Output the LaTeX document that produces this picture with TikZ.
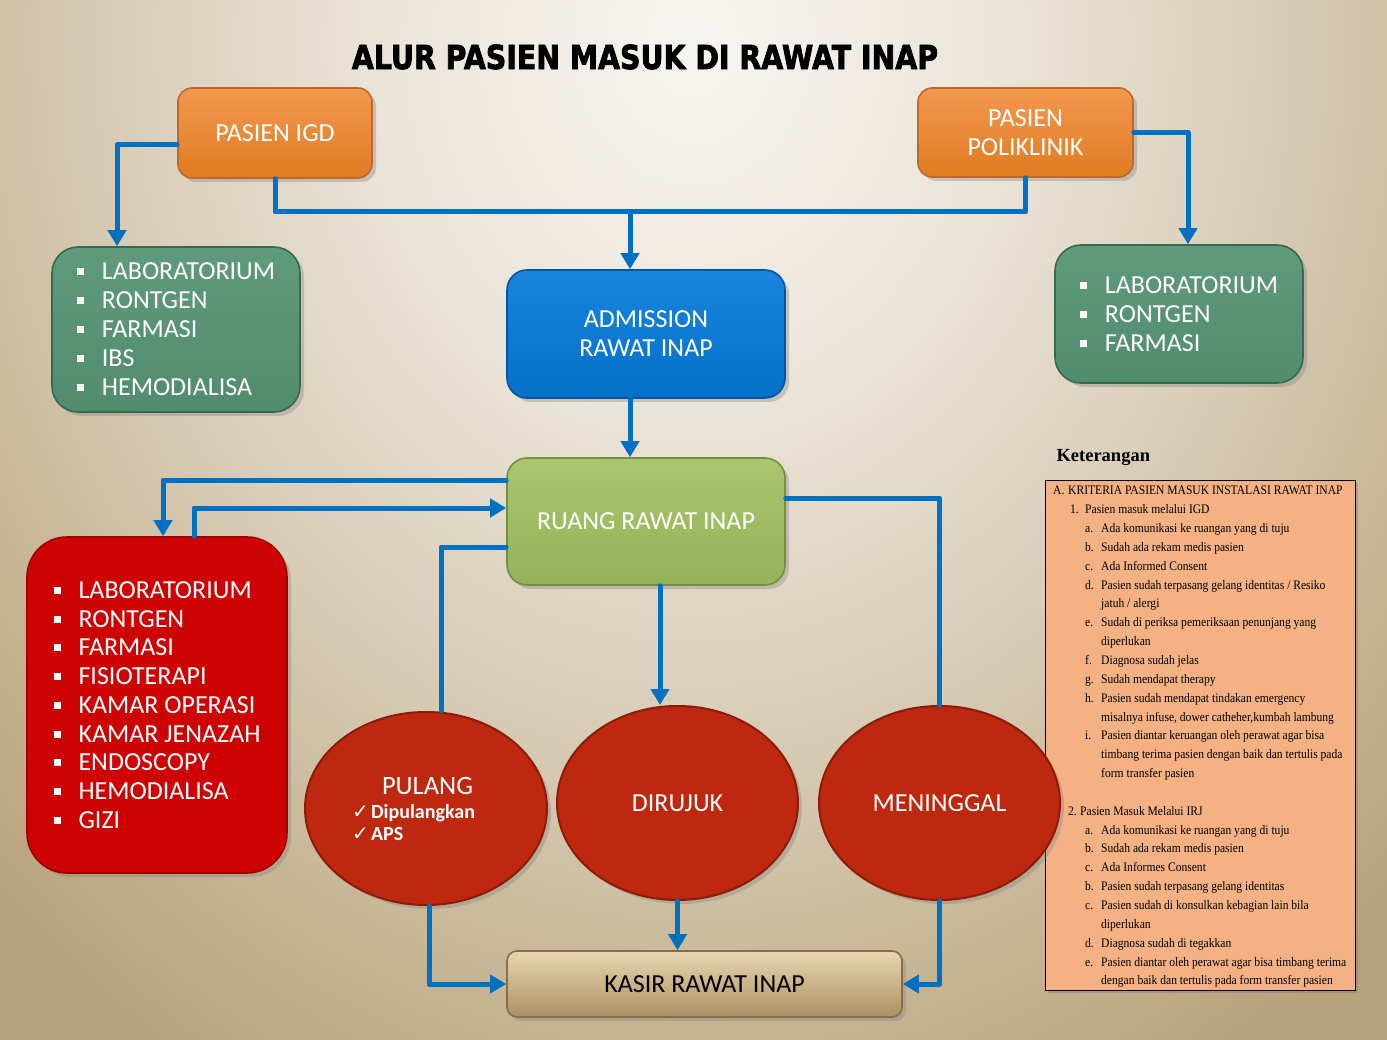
\documentclass[tikz,border=0pt]{standalone}
\usepackage{fontspec}
\setmainfont{Carlito}
\newfontfamily\titlefont{DejaVu Sans}[BoldFeatures={FakeBold=2.5}]
\newfontfamily\symfont{DejaVu Sans}
\newfontfamily\ketheadfont{Liberation Serif}
\newfontfamily\ketfont{Liberation Serif}[FakeStretch=0.89]
\usepackage{graphicx}
\usepackage{tikz}
\usetikzlibrary{arrows.meta,calc,positioning,shapes.geometric,shadows}

\definecolor{bgA}{RGB}{247,245,241}
\definecolor{bgB}{RGB}{235,229,218}
\definecolor{bgC}{RGB}{215,203,180}
\definecolor{bgD}{RGB}{195,177,142}
\definecolor{bgE}{RGB}{184,162,124}
\definecolor{flowblue}{RGB}{0,112,192}
\definecolor{orgtop}{RGB}{242,152,78}
\definecolor{orgbot}{RGB}{224,124,34}
\definecolor{orgrim}{RGB}{190,105,40}
\definecolor{grntop}{RGB}{96,154,125}
\definecolor{grnbot}{RGB}{82,140,110}
\definecolor{grnrim}{RGB}{55,105,80}
\definecolor{blutop}{RGB}{25,132,220}
\definecolor{blubot}{RGB}{5,112,200}
\definecolor{blurim}{RGB}{0,85,165}
\definecolor{olvtop}{RGB}{170,198,110}
\definecolor{olvbot}{RGB}{148,178,88}
\definecolor{olvrim}{RGB}{115,145,60}
\definecolor{redfill}{RGB}{206,4,4}
\definecolor{redrim}{RGB}{160,0,0}
\definecolor{ellfill}{RGB}{190,40,14}
\definecolor{ellrim}{RGB}{140,28,8}
\definecolor{kastop}{RGB}{232,214,175}
\definecolor{kasbot}{RGB}{172,144,98}
\definecolor{kasrim}{RGB}{135,110,70}
\definecolor{ketfill}{RGB}{244,177,131}

\pgfdeclareradialshading{bgglow}{\pgfpoint{0bp}{0bp}}{color(0bp)=(bgA); color(6bp)=(bgB); color(12bp)=(bgC); color(17bp)=(bgD); color(20bp)=(bgE); color(50bp)=(bgE)}

\newcommand{\bul}{\makebox[25pt][l]{\rule[4.5pt]{7pt}{7pt}}}
\newcommand{\ck}{\makebox[19pt][l]{\symfont ✓}}
\newcommand{\kA}[2]{\makebox[15pt][l]{#1}#2}
\newcommand{\kB}[2]{\hspace*{17pt}\makebox[15pt][l]{#1}#2}
\newcommand{\kN}[2]{\hspace*{15pt}\makebox[12pt][l]{#1}#2}
\newcommand{\kC}[2]{\hspace*{32pt}\makebox[16pt][l]{#1}#2}
\newcommand{\kD}[1]{\hspace*{48pt}#1}

\tikzset{
    base/.style={inner sep=0pt, text=white, align=center, line width=1.6pt,
                 font=\fontsize{26}{29}\selectfont,
                 drop shadow={opacity=0.35, shadow xshift=4pt, shadow yshift=-4pt}},
    orangebox/.style={base, rectangle, rounded corners=14pt, top color=orgtop, bottom color=orgbot, draw=orgrim},
    greenbox/.style={base, rectangle, rounded corners=26pt, top color=grntop, bottom color=grnbot, draw=grnrim, align=left},
    bluebox/.style={base, rectangle, rounded corners=20pt, top color=blutop, bottom color=blubot, draw=blurim},
    olivebox/.style={base, rectangle, rounded corners=20pt, top color=olvtop, bottom color=olvbot, draw=olvrim},
    redbox/.style={base, rectangle, rounded corners=40pt, fill=redfill, draw=redrim, align=left,
                   font=\fontsize{26}{28.75}\selectfont},
    ellnode/.style={base, ellipse, fill=ellfill, draw=ellrim, line width=2pt},
    kasirbox/.style={base, rectangle, rounded corners=10pt, top color=kastop, bottom color=kasbot, draw=kasrim, text=black},
    ketbox/.style={rectangle, fill=ketfill, draw=black, line width=0.8pt,
                   drop shadow={opacity=0.45, shadow xshift=3pt, shadow yshift=-3pt}},
    kettext/.style={inner sep=0pt, align=left, font=\ketfont\fontsize{13}{18.85}\selectfont},
    flow/.style={draw=flowblue, line width=5pt, line cap=round, line join=round},
    arr/.style={flow, -{Triangle[length=16pt,width=18pt]}}
}

\begin{document}
\begin{tikzpicture}[x=1pt, y=-1pt]
    % background
    \useasboundingbox (0,0) rectangle (1387,1040);
    \begin{scope}
        \clip (0,0) rectangle (1387,1040);
        \shade[shading=bgglow] (693,40) ellipse (1250 and 1500);
    \end{scope}

    \node[font=\titlefont\bfseries\fontsize{33}{33}\selectfont] (title) at (645,57)
        {\scalebox{0.86}[1]{ALUR PASIEN MASUK DI RAWAT INAP}};

    % keterangan box, under the ellipses
    \node[ketbox, minimum width=310pt, minimum height=510pt] (ket) at (1200,735) {};

    % boxes
    \node[orangebox, minimum width=194pt, minimum height=90pt]   (igd)       at (275,133)     {PASIEN IGD};
    \node[orangebox, minimum width=215pt, minimum height=89pt]   (poli)      at (1025.5,132.5) {PASIEN\\POLIKLINIK};
    \node[greenbox,  minimum width=248pt, minimum height=165pt]  (labigd)    at (176,329.5)   {\bul LABORATORIUM\\\bul RONTGEN\\\bul FARMASI\\\bul IBS\\\bul HEMODIALISA};
    \node[greenbox,  minimum width=248pt, minimum height=138pt]  (labpoli)   at (1179,314)    {\bul LABORATORIUM\\\bul RONTGEN\\\bul FARMASI};
    \node[bluebox,   minimum width=278pt, minimum height=128pt]  (adm)       at (646,334)     {ADMISSION\\RAWAT INAP};
    \node[olivebox,  minimum width=278pt, minimum height=127pt]  (ruang)     at (646,521.5)   {RUANG RAWAT INAP};
    \node[redbox,    minimum width=260pt, minimum height=336pt]  (labri)     at (157,705)
        {\bul LABORATORIUM\\\bul RONTGEN\\\bul FARMASI\\\bul FISIOTERAPI\\\bul KAMAR OPERASI\\\bul KAMAR JENAZAH\\\bul ENDOSCOPY\\\bul HEMODIALISA\\\bul GIZI};
    \node[ellnode,   minimum width=242pt, minimum height=193pt, font=\bfseries\fontsize{20}{22}\selectfont, align=left] (pulang) at (426,808.5)
        {\makebox[148pt][l]{\hspace*{30pt}\mdseries\fontsize{26.5}{26}\selectfont PULANG}\\[2pt]\ck Dipulangkan\\\ck APS};
    \node[ellnode,   minimum width=241pt, minimum height=194pt]  (dirujuk)   at (677.5,803)   {DIRUJUK};
    \node[ellnode,   minimum width=241pt, minimum height=194pt]  (meninggal) at (939.5,803)   {MENINGGAL};
    \node[kasirbox,  minimum width=395pt, minimum height=66pt]   (kasir)     at (704.5,984)   {KASIR RAWAT INAP};

    % connectors
    \coordinate (split) at (630,212);
    \draw[arr]  ([yshift=-12pt]igd.west) -| ([xshift=-59pt]labigd.north);
    \draw[flow] (igd.south) |- (split) -| (poli.south);
    \draw[arr]  (split) -- (split |- adm.north);
    \draw[arr]  (poli.east) -| ([xshift=9pt]labpoli.north);
    \draw[arr]  ([xshift=-16pt]adm.south) -- ([xshift=-16pt]ruang.north);
    \draw[arr]  ([yshift=41.5pt]ruang.west) -| ([xshift=6pt]labri.north);
    \draw[arr]  ([xshift=37pt]labri.north) |- ([yshift=13.5pt]ruang.west);
    \draw[flow] ([yshift=-25.5pt]ruang.west) -| ([xshift=15pt]pulang.north);
    \draw[arr]  ([xshift=14pt]ruang.south) -- ([xshift=-17.5pt]dirujuk.north);
    \draw[flow] ([yshift=23.5pt]ruang.east) -| (meninggal.north);
    \draw[arr]  ([xshift=3pt]pulang.south) |- (kasir.west);
    \draw[arr]  (dirujuk.south) -- (dirujuk.south |- kasir.north);
    \draw[arr]  (meninggal.south) |- (kasir.east);

    % keterangan
    \node[anchor=west, font=\ketheadfont\bfseries\fontsize{18.5}{20}\selectfont] (kethead) at (1053,457) {Keterangan};
    \node[kettext, anchor=north west] (kettxt) at (1053,486) {%
        \kA{A.}{KRITERIA PASIEN MASUK INSTALASI RAWAT INAP}\\
        \kB{1.}{Pasien masuk melalui IGD}\\
        \kC{a.}{Ada komunikasi ke ruangan yang di tuju}\\
        \kC{b.}{Sudah ada rekam medis pasien}\\
        \kC{c.}{Ada Informed Consent}\\
        \kC{d.}{Pasien sudah terpasang gelang identitas / Resiko}\\
        \kD{jatuh / alergi}\\
        \kC{e.}{Sudah di periksa pemeriksaan penunjang yang}\\
        \kD{diperlukan}\\
        \kC{f.}{Diagnosa sudah jelas}\\
        \kC{g.}{Sudah mendapat therapy}\\
        \kC{h.}{Pasien sudah mendapat tindakan emergency}\\
        \kD{misalnya infuse, dower catheher,kumbah lambung}\\
        \kC{i.}{Pasien diantar keruangan oleh perawat agar bisa}\\
        \kD{timbang terima pasien dengan baik dan tertulis pada}\\
        \kD{form transfer pasien}\\[18.85pt]
        \kN{2.}{Pasien Masuk Melalui IRJ}\\
        \kC{a.}{Ada komunikasi ke ruangan yang di tuju}\\
        \kC{b.}{Sudah ada rekam medis pasien}\\
        \kC{c.}{Ada Informes Consent}\\
        \kC{b.}{Pasien sudah terpasang gelang identitas}\\
        \kC{c.}{Pasien sudah di konsulkan kebagian lain bila}\\
        \kD{diperlukan}\\
        \kC{d.}{Diagnosa sudah di tegakkan}\\
        \kC{e.}{Pasien diantar oleh perawat agar bisa timbang terima}\\
        \kD{dengan baik dan tertulis pada form transfer pasien}};
\end{tikzpicture}
\end{document}
